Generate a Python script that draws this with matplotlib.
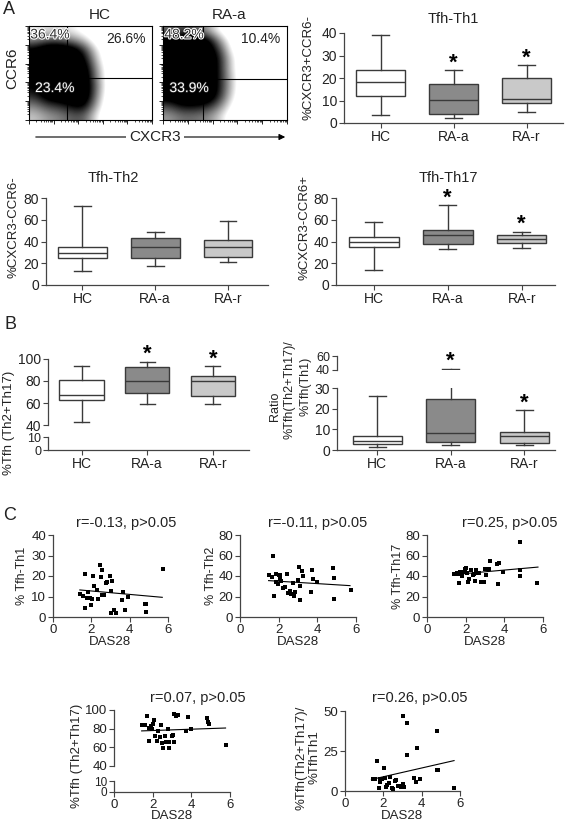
import matplotlib
matplotlib.use('Agg')
import matplotlib.pyplot as plt
import numpy as np
from matplotlib import patheffects as pe
from matplotlib.patches import FancyArrowPatch

plt.rcParams['font.family'] = ['Liberation Sans', 'DejaVu Sans']
plt.rcParams['font.size'] = 10

# ---------------- data ----------------
groups = ['HC', 'RA-a', 'RA-r']

# flow density (rows top->bottom, cols left->right), read as darkness 0..1
hc_density = [
    [0.25, 0.3, 0.3, 0.25, 0.15, 0.05, 0.02, 0, 0, 0],
    [0.5, 0.6, 0.6, 0.5, 0.35, 0.1, 0.02, 0, 0, 0],
    [0.85, 1, 1, 0.95, 0.7, 0.25, 0.05, 0, 0, 0],
    [0.9, 1, 1, 1, 0.85, 0.35, 0.05, 0, 0, 0],
    [0.9, 1, 1, 1, 0.95, 0.45, 0.08, 0, 0, 0],
    [0.85, 1, 1, 1, 1, 0.5, 0.08, 0, 0, 0],
    [0.8, 1, 1, 1, 1, 0.55, 0.08, 0, 0, 0],
    [0.7, 0.9, 0.95, 1, 1, 0.5, 0.05, 0, 0, 0],
    [0.5, 0.65, 0.7, 0.8, 0.85, 0.4, 0.03, 0, 0, 0],
    [0.35, 0.45, 0.5, 0.6, 0.6, 0.25, 0.02, 0, 0, 0],
]
raa_density = [
    [0.55, 0.65, 0.6, 0.45, 0.2, 0.05, 0, 0, 0, 0],
    [0.9, 1, 1, 0.9, 0.5, 0.12, 0.02, 0, 0, 0],
    [1, 1, 1, 1, 0.7, 0.2, 0.03, 0, 0, 0],
    [1, 1, 1, 1, 0.8, 0.3, 0.05, 0, 0, 0],
    [1, 1, 1, 1, 0.8, 0.3, 0.05, 0, 0, 0],
    [1, 1, 1, 1, 0.8, 0.35, 0.05, 0, 0, 0],
    [1, 1, 1, 1, 0.8, 0.35, 0.05, 0, 0, 0],
    [0.9, 1, 1, 1, 0.75, 0.3, 0.04, 0, 0, 0],
    [0.65, 0.8, 0.8, 0.75, 0.55, 0.2, 0.02, 0, 0, 0],
    [0.45, 0.55, 0.55, 0.5, 0.35, 0.1, 0, 0, 0, 0],
]
hc_gate = [0.306, 0.444]
raa_gate = [0.32, 0.433]
hc_pct = ['36.4%', '26.6%', '23.4%']
raa_pct = ['48.2%', '10.4%', '33.9%']

# box plots: whisker low, q1, median, q3, whisker high
th1_lo = [3.7, 2.2, 4.9]
th1_q1 = [11.9, 3.9, 9.1]
th1_med = [18.2, 10.4, 10.6]
th1_q3 = [23.7, 17.2, 20.0]
th1_hi = [39.0, 23.7, 25.8]
th1_star = [None, 26.6, 28.8]

th2_lo = [13.2, 17.8, 21.5]
th2_q1 = [24.5, 24.5, 25.4]
th2_med = [29.4, 35.0, 35.0]
th2_q3 = [35.0, 42.9, 41.4]
th2_hi = [72.3, 49.0, 59.2]

th17_lo = [14.0, 32.7, 34.2]
th17_q1 = [34.5, 37.9, 38.8]
th17_med = [39.7, 45.8, 42.7]
th17_q3 = [44.3, 50.4, 45.8]
th17_hi = [57.7, 73.3, 48.9]
th17_star = [None, 80.0, 55.6]

sum_lo = [42.7, 59.5, 58.9]
sum_q1 = [62.8, 69.2, 66.8]
sum_med = [67.7, 80.2, 80.2]
sum_q3 = [80.8, 92.7, 84.8]
sum_hi = [93.9, 97.0, 93.9]
sum_star = [None, 104.0, 99.4]

ratio_lo = [1.6, 2.4, 2.4]
ratio_q1 = [2.7, 4.0, 3.5]
ratio_med = [4.3, 8.0, 6.9]
ratio_q3 = [6.9, 24.9, 8.8]
ratio_hi = [26.2, 42.0, 19.3]
ratio_star = [None, 53.0, 22.5]

# scatter (DAS28 vs subsets)
c1_x = [1.41, 1.57, 1.69, 1.67, 1.83, 1.79, 1.95, 2.05, 2.0, 2.09, 2.14, 2.30, 2.37, 2.47, 2.54, 2.49, 2.57,
        2.66, 2.75, 2.83, 2.96, 3.08, 3.04, 3.03, 3.2, 3.27, 3.62, 3.67, 3.74, 3.93, 4.82, 4.84, 4.84, 5.74]
c1_y = [11.0, 10.2, 21.1, 4.6, 12.3, 9.5, 9.4, 8.7, 5.9, 20.1, 15.0, 13.2, 8.7, 25.5, 22.7, 19.6, 10.7,
        10.7, 16.6, 17.1, 20.1, 17.4, 12.8, 2.0, 3.6, 2.0, 8.2, 12.3, 3.3, 9.9, 6.4, 6.1, 2.3, 23.5]
c1_line_x = [1.4, 5.7]
c1_line_y = [13.2, 9.6]

c2_x = [1.48, 1.63, 1.70, 1.78, 1.85, 1.84, 1.97, 2.02, 2.09, 2.06, 2.14, 2.2, 2.32, 2.42, 2.5, 2.57, 2.61,
        2.66, 2.74, 2.8, 2.85, 2.98, 3.07, 3.09, 3.12, 3.22, 3.28, 3.65, 3.70, 3.76, 3.96, 4.8, 4.85, 4.85, 5.75]
c2_y = [41.1, 39.5, 59.2, 20.7, 42.1, 34.5, 32.2, 40.5, 41.1, 37.2, 35.5, 28.6, 28.9, 42.1, 23.7, 25.3, 23.7,
        22.4, 33.2, 20.4, 24.0, 36.5, 48.7, 30.6, 16.8, 45.1, 40.1, 24.0, 45.7, 37.5, 33.9, 48.0, 38.2, 17.4, 26.3]
c2_line_x = [1.48, 5.69]
c2_line_y = [35.5, 30.6]

c3_x = [1.41, 1.53, 1.62, 1.67, 1.72, 1.79, 1.90, 1.97, 2.0, 2.05, 2.10, 2.17, 2.28, 2.38, 2.43, 2.47, 2.56,
        2.63, 2.70, 2.78, 2.96, 3.01, 3.04, 3.10, 3.22, 3.25, 3.6, 3.70, 3.67, 3.95, 4.80, 4.80, 4.83, 5.70]
c3_y = [41.8, 43.1, 41.8, 33.2, 43.8, 39.8, 43.8, 46.4, 48.0, 43.1, 33.9, 37.2, 46.1, 41.1, 42.1, 34.9, 45.4,
        43.1, 43.4, 33.9, 33.9, 46.4, 41.4, 46.4, 46.4, 54.3, 52.0, 53.0, 32.2, 43.8, 72.7, 39.8, 46.1, 33.6]
c3_line_x = [1.39, 5.74]
c3_line_y = [41.4, 48.7]

c4_x = [1.46, 1.58, 1.72, 1.79, 1.83, 1.90, 1.95, 2.0, 2.09, 2.14, 2.23, 2.28, 2.37, 2.43, 2.47, 2.54, 2.63,
        2.68, 2.78, 2.83, 2.85, 3.01, 3.06, 3.10, 3.11, 3.22, 3.30, 3.74, 3.81, 3.97, 4.82, 4.85, 4.89, 5.79]
c4_y = [84.1, 84.1, 93.1, 66.9, 80.7, 82.8, 80.0, 84.8, 89.0, 72.4, 67.2, 77.9, 71.4, 84.1, 64.8, 59.3, 72.1,
        65.5, 79.3, 65.9, 59.3, 72.1, 73.1, 96.2, 65.5, 93.1, 94.5, 77.2, 92.4, 80.0, 91.0, 87.6, 85.5, 62.4]
c4_line_x = [1.43, 5.77]
c4_line_y = [77.6, 80.7]

c5_x = [1.45, 1.57, 1.69, 1.76, 1.81, 1.84, 1.91, 2.02, 2.07, 2.12, 2.19, 2.29, 2.36, 2.43, 2.5, 2.6, 2.67,
        2.76, 2.84, 2.93, 3.03, 3.05, 3.09, 3.21, 3.26, 3.62, 3.71, 3.74, 3.93, 4.79, 4.81, 4.84, 5.71]
c5_y = [7.2, 7.2, 19.0, 2.1, 7.2, 5.7, 7.6, 14.1, 8.2, 2.5, 3.6, 5.1, 8.9, 2.1, 1.5, 6.3, 6.8,
        3.0, 3.0, 2.5, 46.8, 4.6, 2.5, 22.6, 42.2, 8.4, 5.7, 26.8, 7.2, 37.8, 13.1, 12.9, 1.7]
c5_line_x = [1.38, 5.69]
c5_line_y = [7.2, 19.0]

# ---------------- figure ----------------
W, H = 567, 823
fig = plt.figure(figsize=(W / 100, H / 100), dpi=100)

EDGE = '#3a3a3a'
SPINE = '#444444'
TXT = '#222222'
box_colors = ['#ffffff', '#8a8a8a', '#c9c9c9']


def add_ax(l, t, r, b):
    return fig.add_axes([l / W, 1 - b / H, (r - l) / W, (b - t) / H])


def ftext(x, y, s, **kw):
    kw.setdefault('color', TXT)
    return fig.text(x / W, 1 - y / H, s, **kw)


def style(ax, bottom=True, size=10):
    for s in ['top', 'right']:
        ax.spines[s].set_visible(False)
    for s in ['left', 'bottom']:
        ax.spines[s].set_color(SPINE)
        ax.spines[s].set_linewidth(0.9)
    ax.tick_params(direction='out', length=3.5, width=0.8, color=SPINE,
                   labelcolor=TXT, labelsize=size, pad=1.5)
    if not bottom:
        ax.spines['bottom'].set_visible(False)
        ax.tick_params(axis='x', bottom=False, labelbottom=False)


def draw_box(ax, lo, q1, med, q3, hi):
    stats = [dict(whislo=a, q1=b, med=c, q3=d, whishi=e, fliers=[])
             for a, b, c, d, e in zip(lo, q1, med, q3, hi)]
    bp = ax.bxp(stats, positions=[1, 2, 3], widths=0.67, capwidths=0.23,
                patch_artist=True, showfliers=False, manage_ticks=False,
                boxprops=dict(edgecolor=EDGE, linewidth=1.0),
                whiskerprops=dict(color=EDGE, linewidth=1.0),
                capprops=dict(color=EDGE, linewidth=1.0),
                medianprops=dict(color=EDGE, linewidth=1.0))
    for p, c in zip(bp['boxes'], box_colors):
        p.set_facecolor(c)


def stars(ax, ys):
    for i, y in enumerate(ys):
        if y is not None:
            ax.text(i + 1, y, '*', ha='center', va='center', fontsize=16,
                    fontweight='bold', color='k', clip_on=False)


def cat_axis(ax):
    ax.set_xticks([1, 2, 3])
    ax.set_xticklabels(groups)


# ---------- panel A: flow plots ----------
def flow(ax, grid, gate, pcts):
    ax.imshow(np.array(grid), extent=(0, 1, 0, 1), origin='upper', cmap='gray_r',
              vmin=0.22, vmax=0.8, interpolation='bicubic', aspect='auto')
    ax.axvline(gate[0], color='k', lw=0.8)
    ax.axhline(gate[1], color='k', lw=0.8)
    ax.set_xlim(0, 1)
    ax.set_ylim(0, 1)
    major = [0.2 * k for k in range(6)]
    minor = [0.2 * (k + np.log10(m)) for k in range(5) for m in range(2, 10)]
    for axis in (ax.xaxis, ax.yaxis):
        axis.set_ticks(major)
        axis.set_ticks(minor, minor=True)
        axis.set_ticklabels([])
    ax.tick_params(which='major', length=3, width=0.6, direction='out')
    ax.tick_params(which='minor', length=1.5, width=0.5, direction='out')
    for s in ax.spines.values():
        s.set_linewidth(0.8)
    ax.text(0.17, 0.91, pcts[0], transform=ax.transAxes, ha='center', va='center',
            fontsize=10, color='#333333',
            path_effects=[pe.withStroke(linewidth=1.5, foreground='white')])
    ax.text(0.79, 0.86, pcts[1], transform=ax.transAxes, ha='center', va='center',
            fontsize=10, color=TXT)
    ax.text(0.21, 0.34, pcts[2], transform=ax.transAxes, ha='center', va='center',
            fontsize=10, color='white',
            path_effects=[pe.withStroke(linewidth=1.0, foreground='#222222')])


ax_hc = add_ax(29, 26, 152, 120)
flow(ax_hc, hc_density, hc_gate, hc_pct)
ax_ra = add_ax(163, 26, 287, 120)
flow(ax_ra, raa_density, raa_gate, raa_pct)
ftext(100, 15, 'HC', ha='center', va='center', fontsize=11)
ftext(229, 15, 'RA-a', ha='center', va='center', fontsize=11)
ftext(12, 68, 'CCR6', ha='center', va='center', rotation=90, fontsize=11)
arr = FancyArrowPatch((33 / W, 1 - 137 / H), (288 / W, 1 - 137 / H), transform=fig.transFigure,
                      arrowstyle='-|>', mutation_scale=9, color='k', lw=0.8)
fig.add_artist(arr)
ftext(155, 137, 'CXCR3', ha='center', va='center', fontsize=11,
      bbox=dict(facecolor='white', edgecolor='none', pad=2.5))

ftext(9, 9, 'A', ha='center', va='center', fontsize=13)
ftext(10, 324, 'B', ha='center', va='center', fontsize=13)
ftext(10, 515, 'C', ha='center', va='center', fontsize=13)

# Tfh-Th1
ax = add_ax(344, 33, 563, 123)
draw_box(ax, th1_lo, th1_q1, th1_med, th1_q3, th1_hi)
stars(ax, th1_star)
ax.set_xlim(0.5, 3.5)
ax.set_ylim(0, 40)
ax.set_yticks([0, 10, 20, 30, 40])
cat_axis(ax)
style(ax)
ftext(453, 19, 'Tfh-Th1', ha='center', va='center', fontsize=10.5)
ftext(309, 67, '%CXCR3+CCR6-', ha='center', va='center', rotation=90, fontsize=9.5)

# Tfh-Th2
ax = add_ax(46, 198, 268, 285)
draw_box(ax, th2_lo, th2_q1, th2_med, th2_q3, th2_hi)
ax.set_xlim(0.5, 3.55)
ax.set_ylim(0, 80)
ax.set_yticks([0, 20, 40, 60, 80])
cat_axis(ax)
style(ax)
ftext(113, 178, 'Tfh-Th2', ha='center', va='center', fontsize=10.5)
ftext(14, 227, '%CXCR3-CCR6-', ha='center', va='center', rotation=90, fontsize=9.5)

# Tfh-Th17
ax = add_ax(336, 198, 555, 285)
draw_box(ax, th17_lo, th17_q1, th17_med, th17_q3, th17_hi)
stars(ax, th17_star)
ax.set_xlim(0.49, 3.45)
ax.set_ylim(0, 80)
ax.set_yticks([0, 20, 40, 60, 80])
cat_axis(ax)
style(ax)
ftext(448, 178, 'Tfh-Th17', ha='center', va='center', fontsize=10.5)
ftext(304, 227, '%CXCR3-CCR6+', ha='center', va='center', rotation=90, fontsize=9.5)

# ---------- panel B ----------
# left: %Tfh (Th2+Th17), broken axis
ax_u = add_ax(48, 359, 249, 425)
draw_box(ax_u, sum_lo, sum_q1, sum_med, sum_q3, sum_hi)
stars(ax_u, sum_star)
ax_u.set_xlim(0.49, 3.55)
ax_u.set_ylim(40, 100)
ax_u.set_yticks([40, 60, 80, 100])
style(ax_u, bottom=False)
ax_l = add_ax(48, 437, 249, 450)
ax_l.set_xlim(0.49, 3.55)
ax_l.set_ylim(0, 10)
ax_l.set_yticks([0, 10])
cat_axis(ax_l)
style(ax_l)
ax_l.tick_params(axis='y', labelsize=9)
ftext(9, 423, '%Tfh (Th2+Th17)', ha='center', va='center', rotation=90, fontsize=9.5)

# right: ratio, broken axis
ax_u = add_ax(337, 356, 555, 370)
draw_box(ax_u, ratio_lo, ratio_q1, ratio_med, ratio_q3, ratio_hi)
stars(ax_u, [ratio_star[0], ratio_star[1], None])
ax_u.set_xlim(0.45, 3.42)
ax_u.set_ylim(40, 60)
ax_u.set_yticks([40, 60])
style(ax_u, bottom=False, size=9)
ax_l = add_ax(337, 388, 555, 450)
draw_box(ax_l, ratio_lo, ratio_q1, ratio_med, ratio_q3, ratio_hi)
stars(ax_l, [None, None, ratio_star[2]])
ax_l.set_xlim(0.45, 3.42)
ax_l.set_ylim(0, 30)
ax_l.set_yticks([0, 10, 20, 30])
cat_axis(ax_l)
style(ax_l)
ftext(275, 406, 'Ratio', ha='center', va='center', rotation=90, fontsize=9)
ftext(290, 390, '%Tfh(Th2+Th17)/', ha='center', va='center', rotation=90, fontsize=9)
ftext(305, 386, '%Tfh(Th1)', ha='center', va='center', rotation=90, fontsize=9)

# ---------- panel C: scatter ----------
def scat(ax, x, y, lx, ly):
    ax.scatter(x, y, s=5, marker='s', color='k', linewidths=0, clip_on=False, zorder=3)
    ax.plot(lx, ly, color='k', lw=0.8)


def das_axis(ax):
    ax.set_xlim(0, 6)
    ax.set_xticks([0, 2, 4, 6])


ax = add_ax(53, 535, 168, 617)
scat(ax, c1_x, c1_y, c1_line_x, c1_line_y)
das_axis(ax)
ax.set_ylim(0, 40)
ax.set_yticks([0, 10, 20, 30, 40])
style(ax, size=9.5)
ftext(126, 523, 'r=-0.13, p>0.05', ha='center', va='center', fontsize=10.5)
ftext(22, 576, '% Tfh-Th1', ha='center', va='center', rotation=90, fontsize=9)
ftext(110, 642, 'DAS28', ha='center', va='center', fontsize=9.5)

ax = add_ax(240, 535, 356, 617)
scat(ax, c2_x, c2_y, c2_line_x, c2_line_y)
das_axis(ax)
ax.set_ylim(0, 80)
ax.set_yticks([0, 20, 40, 60, 80])
style(ax, size=9.5)
ftext(318, 523, 'r=-0.11, p>0.05', ha='center', va='center', fontsize=10.5)
ftext(211, 576, '% Tfh-Th2', ha='center', va='center', rotation=90, fontsize=9)
ftext(298, 642, 'DAS28', ha='center', va='center', fontsize=9.5)

ax = add_ax(427, 535, 543, 617)
scat(ax, c3_x, c3_y, c3_line_x, c3_line_y)
das_axis(ax)
ax.set_ylim(0, 80)
ax.set_yticks([0, 20, 40, 60, 80])
style(ax, size=9.5)
ftext(510, 523, 'r=0.25, p>0.05', ha='center', va='center', fontsize=10.5)
ftext(398, 576, '% Tfh-Th17', ha='center', va='center', rotation=90, fontsize=9)
ftext(485, 642, 'DAS28', ha='center', va='center', fontsize=9.5)

# plot 4 broken axis
ax_u = add_ax(114, 710, 230, 766)
scat(ax_u, c4_x, c4_y, c4_line_x, c4_line_y)
das_axis(ax_u)
ax_u.set_ylim(40, 100)
ax_u.set_yticks([40, 60, 80, 100])
style(ax_u, bottom=False, size=9.5)
ax_l = add_ax(114, 781, 230, 792)
das_axis(ax_l)
ax_l.set_ylim(0, 10)
ax_l.set_yticks([0, 10])
style(ax_l, size=9.5)
ax_l.tick_params(axis='y', labelsize=8.5)
ftext(198, 698, 'r=0.07, p>0.05', ha='center', va='center', fontsize=10.5)
ftext(77, 756, '%Tfh (Th2+Th17)', ha='center', va='center', rotation=90, fontsize=9.5)
ftext(172, 816, 'DAS28', ha='center', va='center', fontsize=9.5)

ax = add_ax(345, 711, 460, 791)
scat(ax, c5_x, c5_y, c5_line_x, c5_line_y)
das_axis(ax)
ax.set_ylim(0, 50)
ax.set_yticks([0, 25, 50])
style(ax, size=9.5)
ftext(420, 698, 'r=0.26, p>0.05', ha='center', va='center', fontsize=10.5)
ftext(301, 758, '%Tfh(Th2+Th17)/', ha='center', va='center', rotation=90, fontsize=9.5)
ftext(315, 757, '%TfhTh1', ha='center', va='center', rotation=90, fontsize=9.5)
ftext(402, 816, 'DAS28', ha='center', va='center', fontsize=9.5)

fig.savefig('out.png', dpi=100)
